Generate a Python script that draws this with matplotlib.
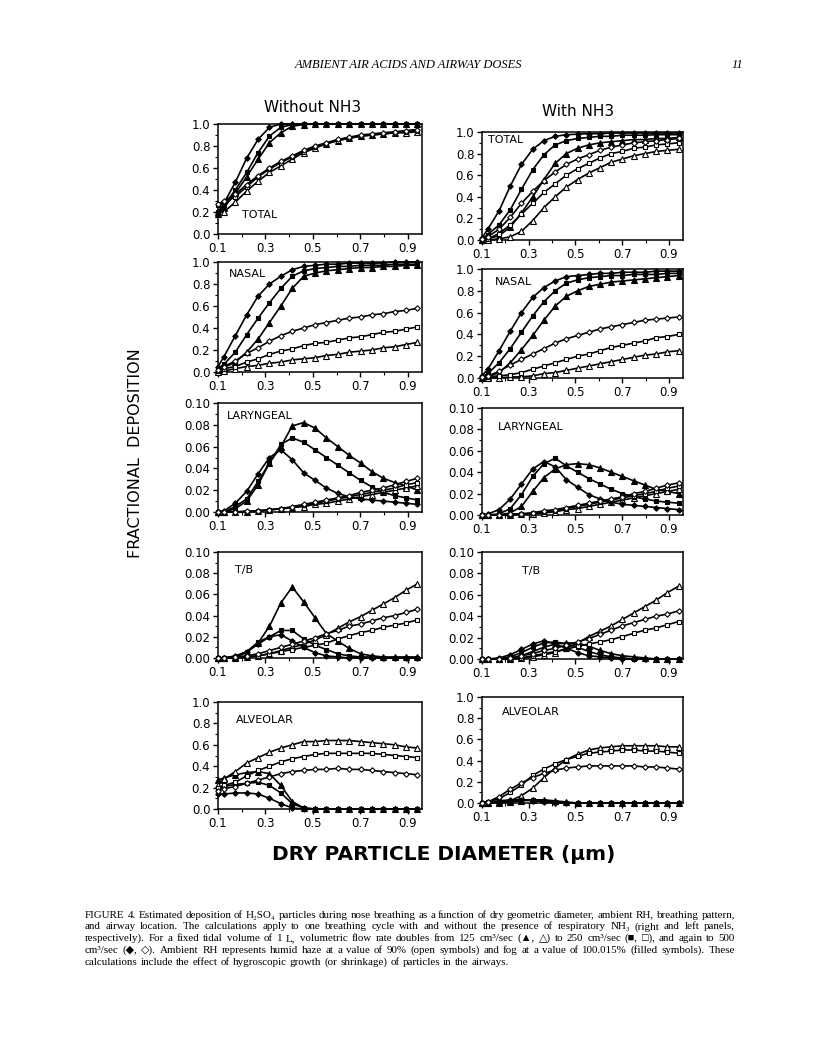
import matplotlib
matplotlib.use("Agg")
import matplotlib.pyplot as plt
from matplotlib.ticker import MultipleLocator, FixedLocator

plt.rcParams["font.family"] = ["DejaVu Sans"]

# dry particle diameter (um), same grid in every panel
diameter = [0.1, 0.125, 0.173, 0.221, 0.269, 0.317, 0.365, 0.413, 0.461, 0.509,
            0.557, 0.605, 0.653, 0.701, 0.749, 0.797, 0.845, 0.893, 0.941]

# ---- TOTAL ----
tot_wo_tri_f = [0.18, 0.24, 0.37, 0.52, 0.68, 0.83, 0.92, 0.98, 0.995, 1.0, 1.0, 1.0, 1.0, 1.0, 1.0, 1.0, 1.0, 1.0, 1.0]
tot_wo_tri_o = [0.20, 0.20, 0.29, 0.39, 0.48, 0.56, 0.62, 0.68, 0.74, 0.78, 0.82, 0.85, 0.87, 0.89, 0.90, 0.91, 0.92, 0.92, 0.93]
tot_wo_sq_f = [0.20, 0.26, 0.40, 0.56, 0.74, 0.89, 0.97, 0.995, 1.0, 1.0, 1.0, 1.0, 1.0, 1.0, 1.0, 1.0, 1.0, 1.0, 1.0]
tot_wo_sq_o = [0.26, 0.28, 0.34, 0.43, 0.52, 0.59, 0.65, 0.70, 0.75, 0.79, 0.82, 0.85, 0.87, 0.89, 0.90, 0.91, 0.92, 0.93, 0.94]
tot_wo_di_f = [0.20, 0.28, 0.47, 0.69, 0.86, 0.97, 1.0, 1.0, 1.0, 1.0, 1.0, 1.0, 1.0, 1.0, 1.0, 1.0, 1.0, 1.0, 1.0]
tot_wo_di_o = [0.27, 0.30, 0.36, 0.45, 0.53, 0.60, 0.66, 0.71, 0.76, 0.80, 0.83, 0.86, 0.88, 0.90, 0.91, 0.92, 0.93, 0.94, 0.95]

tot_w_tri_f = [0.0, 0.01, 0.04, 0.12, 0.25, 0.40, 0.56, 0.71, 0.80, 0.85, 0.88, 0.90, 0.91, 0.92, 0.93, 0.93, 0.94, 0.94, 0.95]
tot_w_tri_o = [0.0, 0.0, 0.01, 0.03, 0.08, 0.18, 0.30, 0.40, 0.49, 0.56, 0.62, 0.67, 0.72, 0.75, 0.78, 0.80, 0.82, 0.83, 0.84]
tot_w_sq_f = [0.01, 0.05, 0.14, 0.28, 0.47, 0.65, 0.79, 0.88, 0.92, 0.94, 0.95, 0.96, 0.96, 0.97, 0.97, 0.97, 0.975, 0.975, 0.975]
tot_w_sq_o = [0.0, 0.01, 0.06, 0.14, 0.24, 0.34, 0.44, 0.52, 0.60, 0.66, 0.71, 0.76, 0.80, 0.82, 0.85, 0.86, 0.88, 0.89, 0.90]
tot_w_di_f = [0.02, 0.10, 0.27, 0.50, 0.70, 0.84, 0.92, 0.96, 0.975, 0.98, 0.985, 0.985, 0.99, 0.99, 0.99, 0.99, 0.99, 0.99, 0.99]
tot_w_di_o = [0.01, 0.03, 0.10, 0.21, 0.34, 0.45, 0.55, 0.63, 0.70, 0.75, 0.79, 0.83, 0.86, 0.88, 0.90, 0.91, 0.92, 0.93, 0.94]

# ---- NASAL ----
nas_wo_tri_f = [0.02, 0.04, 0.09, 0.18, 0.30, 0.45, 0.60, 0.76, 0.87, 0.90, 0.92, 0.93, 0.94, 0.95, 0.95, 0.96, 0.96, 0.97, 0.97]
nas_wo_tri_o = [0.0, 0.01, 0.03, 0.05, 0.06, 0.08, 0.09, 0.11, 0.12, 0.13, 0.15, 0.16, 0.18, 0.19, 0.20, 0.22, 0.23, 0.25, 0.27]
nas_wo_sq_f = [0.03, 0.07, 0.18, 0.34, 0.49, 0.63, 0.76, 0.87, 0.92, 0.94, 0.95, 0.96, 0.96, 0.97, 0.97, 0.97, 0.98, 0.98, 0.98]
nas_wo_sq_o = [0.01, 0.03, 0.05, 0.09, 0.12, 0.16, 0.19, 0.21, 0.24, 0.26, 0.27, 0.29, 0.31, 0.32, 0.34, 0.36, 0.37, 0.39, 0.41]
nas_wo_di_f = [0.05, 0.14, 0.33, 0.52, 0.69, 0.80, 0.87, 0.93, 0.96, 0.97, 0.98, 0.98, 0.99, 0.99, 0.99, 0.99, 1.0, 1.0, 1.0]
nas_wo_di_o = [0.02, 0.05, 0.10, 0.17, 0.22, 0.28, 0.33, 0.37, 0.40, 0.43, 0.45, 0.47, 0.49, 0.50, 0.52, 0.53, 0.55, 0.56, 0.58]

nas_w_tri_f = [0.0, 0.01, 0.05, 0.14, 0.26, 0.39, 0.53, 0.66, 0.75, 0.80, 0.84, 0.86, 0.88, 0.89, 0.90, 0.91, 0.92, 0.93, 0.94]
nas_w_tri_o = [0.0, 0.0, 0.0, 0.01, 0.01, 0.02, 0.04, 0.05, 0.07, 0.09, 0.11, 0.13, 0.15, 0.17, 0.19, 0.21, 0.22, 0.24, 0.25]
nas_w_sq_f = [0.01, 0.04, 0.14, 0.27, 0.42, 0.57, 0.70, 0.80, 0.87, 0.90, 0.92, 0.93, 0.94, 0.94, 0.95, 0.95, 0.95, 0.96, 0.96]
nas_w_sq_o = [0.0, 0.01, 0.02, 0.03, 0.05, 0.08, 0.11, 0.14, 0.17, 0.20, 0.22, 0.25, 0.28, 0.30, 0.32, 0.34, 0.37, 0.38, 0.40]
nas_w_di_f = [0.02, 0.08, 0.25, 0.43, 0.60, 0.74, 0.83, 0.89, 0.93, 0.94, 0.95, 0.96, 0.96, 0.97, 0.97, 0.97, 0.98, 0.98, 0.98]
nas_w_di_o = [0.01, 0.02, 0.06, 0.12, 0.17, 0.22, 0.27, 0.32, 0.36, 0.39, 0.42, 0.45, 0.47, 0.49, 0.51, 0.53, 0.54, 0.55, 0.56]

# ---- LARYNGEAL ----
lar_wo_tri_f = [0.0, 0.0, 0.003, 0.010, 0.025, 0.045, 0.060, 0.079, 0.082, 0.077, 0.068, 0.060, 0.052, 0.045, 0.037, 0.031, 0.027, 0.024, 0.020]
lar_wo_tri_o = [0.0, 0.0, 0.0, 0.0, 0.001, 0.002, 0.003, 0.004, 0.005, 0.007, 0.008, 0.010, 0.012, 0.014, 0.016, 0.018, 0.020, 0.022, 0.024]
lar_wo_sq_f = [0.0, 0.0, 0.005, 0.012, 0.028, 0.045, 0.062, 0.068, 0.064, 0.057, 0.050, 0.043, 0.036, 0.029, 0.023, 0.018, 0.015, 0.013, 0.011]
lar_wo_sq_o = [0.0, 0.0, 0.0, 0.0, 0.001, 0.002, 0.003, 0.004, 0.006, 0.008, 0.010, 0.012, 0.014, 0.016, 0.018, 0.020, 0.022, 0.025, 0.027]
lar_wo_di_f = [0.0, 0.001, 0.008, 0.019, 0.035, 0.050, 0.057, 0.048, 0.036, 0.029, 0.022, 0.017, 0.014, 0.012, 0.011, 0.010, 0.009, 0.008, 0.007]
lar_wo_di_o = [0.0, 0.0, 0.0, 0.001, 0.001, 0.002, 0.003, 0.005, 0.007, 0.009, 0.011, 0.013, 0.015, 0.018, 0.020, 0.022, 0.025, 0.028, 0.031]

lar_w_tri_f = [0.0, 0.0, 0.0, 0.002, 0.008, 0.022, 0.035, 0.043, 0.047, 0.048, 0.047, 0.044, 0.040, 0.036, 0.032, 0.028, 0.024, 0.022, 0.020]
lar_w_tri_o = [0.0, 0.0, 0.0, 0.0, 0.001, 0.001, 0.002, 0.003, 0.005, 0.006, 0.008, 0.010, 0.012, 0.014, 0.016, 0.018, 0.020, 0.022, 0.024]
lar_w_sq_f = [0.0, 0.0, 0.001, 0.006, 0.019, 0.036, 0.048, 0.053, 0.046, 0.040, 0.034, 0.029, 0.024, 0.020, 0.017, 0.015, 0.013, 0.012, 0.011]
lar_w_sq_o = [0.0, 0.0, 0.0, 0.0, 0.001, 0.002, 0.003, 0.004, 0.006, 0.008, 0.010, 0.012, 0.014, 0.016, 0.018, 0.020, 0.022, 0.025, 0.027]
lar_w_di_f = [0.0, 0.001, 0.005, 0.015, 0.029, 0.043, 0.050, 0.045, 0.033, 0.026, 0.019, 0.015, 0.012, 0.010, 0.009, 0.008, 0.007, 0.006, 0.005]
lar_w_di_o = [0.0, 0.0, 0.0, 0.001, 0.001, 0.002, 0.004, 0.005, 0.007, 0.009, 0.011, 0.013, 0.015, 0.017, 0.020, 0.022, 0.025, 0.028, 0.030]

# ---- T/B ----
tb_wo_tri_f = [0.0, 0.0, 0.001, 0.005, 0.014, 0.030, 0.052, 0.067, 0.053, 0.038, 0.023, 0.016, 0.009, 0.004, 0.002, 0.001, 0.001, 0.001, 0.001]
tb_wo_tri_o = [0.0, 0.0, 0.0, 0.001, 0.002, 0.004, 0.007, 0.010, 0.013, 0.017, 0.022, 0.028, 0.034, 0.039, 0.045, 0.051, 0.057, 0.064, 0.070]
tb_wo_sq_f = [0.0, 0.0, 0.001, 0.006, 0.015, 0.020, 0.026, 0.026, 0.018, 0.012, 0.008, 0.004, 0.002, 0.001, 0.001, 0.0, 0.0, 0.0, 0.0]
tb_wo_sq_o = [0.0, 0.0, 0.0, 0.001, 0.002, 0.004, 0.006, 0.008, 0.010, 0.012, 0.014, 0.018, 0.021, 0.024, 0.026, 0.029, 0.031, 0.033, 0.036]
tb_wo_di_f = [0.0, 0.0, 0.002, 0.006, 0.013, 0.020, 0.022, 0.016, 0.010, 0.005, 0.002, 0.001, 0.0, 0.0, 0.0, 0.0, 0.0, 0.0, 0.0]
tb_wo_di_o = [0.0, 0.0, 0.001, 0.002, 0.004, 0.007, 0.010, 0.013, 0.016, 0.019, 0.023, 0.026, 0.030, 0.032, 0.035, 0.038, 0.040, 0.043, 0.046]

tb_w_tri_f = [0.0, 0.0, 0.0, 0.001, 0.003, 0.007, 0.011, 0.014, 0.015, 0.015, 0.012, 0.008, 0.005, 0.003, 0.002, 0.001, 0.0, 0.0, 0.0]
tb_w_tri_o = [0.0, 0.0, 0.0, 0.0, 0.001, 0.002, 0.004, 0.006, 0.010, 0.015, 0.021, 0.026, 0.031, 0.037, 0.043, 0.049, 0.055, 0.062, 0.068]
tb_w_sq_f = [0.0, 0.0, 0.0, 0.002, 0.006, 0.011, 0.015, 0.016, 0.014, 0.011, 0.007, 0.004, 0.002, 0.001, 0.0, 0.0, 0.0, 0.0, 0.0]
tb_w_sq_o = [0.0, 0.0, 0.0, 0.0, 0.001, 0.003, 0.005, 0.007, 0.009, 0.012, 0.014, 0.016, 0.018, 0.021, 0.024, 0.027, 0.029, 0.032, 0.035]
tb_w_di_f = [0.0, 0.0, 0.001, 0.004, 0.009, 0.014, 0.017, 0.014, 0.010, 0.006, 0.003, 0.002, 0.001, 0.0, 0.0, 0.0, 0.0, 0.0, 0.0]
tb_w_di_o = [0.0, 0.0, 0.0, 0.001, 0.003, 0.005, 0.008, 0.010, 0.013, 0.016, 0.019, 0.023, 0.027, 0.031, 0.034, 0.037, 0.040, 0.042, 0.045]

# ---- ALVEOLAR ----
alv_wo_tri_f = [0.27, 0.29, 0.32, 0.34, 0.35, 0.33, 0.22, 0.07, 0.01, 0.0, 0.0, 0.0, 0.0, 0.0, 0.0, 0.0, 0.0, 0.0, 0.0]
alv_wo_tri_o = [0.22, 0.28, 0.35, 0.43, 0.48, 0.53, 0.57, 0.60, 0.63, 0.63, 0.64, 0.64, 0.64, 0.63, 0.62, 0.61, 0.60, 0.58, 0.57]
alv_wo_sq_f = [0.20, 0.21, 0.23, 0.24, 0.25, 0.22, 0.15, 0.05, 0.01, 0.0, 0.0, 0.0, 0.0, 0.0, 0.0, 0.0, 0.0, 0.0, 0.0]
alv_wo_sq_o = [0.20, 0.22, 0.25, 0.31, 0.36, 0.40, 0.44, 0.47, 0.49, 0.51, 0.52, 0.52, 0.52, 0.52, 0.52, 0.51, 0.50, 0.49, 0.48]
alv_wo_di_f = [0.14, 0.14, 0.15, 0.15, 0.14, 0.10, 0.05, 0.01, 0.0, 0.0, 0.0, 0.0, 0.0, 0.0, 0.0, 0.0, 0.0, 0.0, 0.0]
alv_wo_di_o = [0.17, 0.19, 0.21, 0.24, 0.27, 0.30, 0.33, 0.35, 0.36, 0.37, 0.37, 0.38, 0.37, 0.37, 0.36, 0.35, 0.34, 0.33, 0.32]

alv_w_tri_f = [0.0, 0.0, 0.0, 0.01, 0.02, 0.03, 0.03, 0.02, 0.01, 0.0, 0.0, 0.0, 0.0, 0.0, 0.0, 0.0, 0.0, 0.0, 0.0]
alv_w_tri_o = [0.0, 0.0, 0.01, 0.02, 0.07, 0.14, 0.24, 0.33, 0.41, 0.46, 0.50, 0.52, 0.53, 0.54, 0.54, 0.54, 0.54, 0.53, 0.53]
alv_w_sq_f = [0.0, 0.0, 0.01, 0.02, 0.03, 0.03, 0.02, 0.01, 0.0, 0.0, 0.0, 0.0, 0.0, 0.0, 0.0, 0.0, 0.0, 0.0, 0.0]
alv_w_sq_o = [0.0, 0.01, 0.04, 0.10, 0.17, 0.26, 0.32, 0.37, 0.41, 0.44, 0.47, 0.48, 0.49, 0.50, 0.50, 0.49, 0.49, 0.48, 0.47]
alv_w_di_f = [0.0, 0.01, 0.02, 0.03, 0.03, 0.02, 0.01, 0.0, 0.0, 0.0, 0.0, 0.0, 0.0, 0.0, 0.0, 0.0, 0.0, 0.0, 0.0]
alv_w_di_o = [0.0, 0.01, 0.06, 0.13, 0.19, 0.24, 0.28, 0.31, 0.33, 0.34, 0.35, 0.35, 0.35, 0.35, 0.35, 0.34, 0.34, 0.33, 0.32]

region_names = ["TOTAL", "NASAL", "LARYNGEAL", "T/B", "ALVEOLAR"]
x_ticks = [0.1, 0.3, 0.5, 0.7, 0.9]

# marker style per series: 125 (triangle), 250 (square), 500 (diamond); fog filled, haze open
STYLES = [("^", "black", 4.0), ("^", "white", 4.0),
          ("s", "black", 3.4), ("s", "white", 3.4),
          ("D", "black", 2.8), ("D", "white", 2.8)]

panels_wo = [
    [tot_wo_tri_f, tot_wo_tri_o, tot_wo_sq_f, tot_wo_sq_o, tot_wo_di_f, tot_wo_di_o],
    [nas_wo_tri_f, nas_wo_tri_o, nas_wo_sq_f, nas_wo_sq_o, nas_wo_di_f, nas_wo_di_o],
    [lar_wo_tri_f, lar_wo_tri_o, lar_wo_sq_f, lar_wo_sq_o, lar_wo_di_f, lar_wo_di_o],
    [tb_wo_tri_f, tb_wo_tri_o, tb_wo_sq_f, tb_wo_sq_o, tb_wo_di_f, tb_wo_di_o],
    [alv_wo_tri_f, alv_wo_tri_o, alv_wo_sq_f, alv_wo_sq_o, alv_wo_di_f, alv_wo_di_o],
]
panels_w = [
    [tot_w_tri_f, tot_w_tri_o, tot_w_sq_f, tot_w_sq_o, tot_w_di_f, tot_w_di_o],
    [nas_w_tri_f, nas_w_tri_o, nas_w_sq_f, nas_w_sq_o, nas_w_di_f, nas_w_di_o],
    [lar_w_tri_f, lar_w_tri_o, lar_w_sq_f, lar_w_sq_o, lar_w_di_f, lar_w_di_o],
    [tb_w_tri_f, tb_w_tri_o, tb_w_sq_f, tb_w_sq_o, tb_w_di_f, tb_w_di_o],
    [alv_w_tri_f, alv_w_tri_o, alv_w_sq_f, alv_w_sq_o, alv_w_di_f, alv_w_di_o],
]
ymax = [1.0, 1.0, 0.10, 0.10, 1.0]

# axes rectangles in pixels (left, top, right, bottom) on the 816x1043 page
W, H = 816, 1043
boxes_left = [(218, 124, 422, 234), (218, 262, 422, 372), (218, 403, 422, 512),
              (218, 552, 422, 658), (218, 702, 422, 809)]
boxes_right = [(482, 132, 683, 240), (482, 269, 683, 378), (482, 408, 683, 515),
               (482, 552, 683, 659), (482, 697, 683, 803)]
label_pos_left = [(0.12, 0.17), (0.055, 0.89), (0.045, 0.88), (0.085, 0.83), (0.09, 0.83)]
label_pos_right = [(0.03, 0.93), (0.065, 0.88), (0.08, 0.82), (0.2, 0.82), (0.1, 0.86)]


def make_axes(fig, box):
    l, t, r, b = box
    return fig.add_axes([l / W, 1 - b / H, (r - l) / W, (b - t) / H])


def draw_panel(ax, series, top, name, pos):
    for values, (marker, face, ms) in zip(series, STYLES):
        ax.plot(diameter, values, color="black", lw=1.2, marker=marker,
                markersize=ms, markerfacecolor=face, markeredgecolor="black",
                markeredgewidth=0.8, clip_on=False, zorder=3)
    ax.set_xlim(0.1, 0.96)
    ax.set_ylim(0, top)
    ax.xaxis.set_major_locator(FixedLocator(x_ticks))
    ax.xaxis.set_minor_locator(FixedLocator([0.2, 0.4, 0.6, 0.8]))
    if top > 0.5:
        ax.yaxis.set_major_locator(MultipleLocator(0.2))
        ax.yaxis.set_minor_locator(MultipleLocator(0.1))
        ax.yaxis.set_major_formatter(plt.FuncFormatter(lambda v, p: f"{v:.1f}"))
    else:
        ax.yaxis.set_major_locator(MultipleLocator(0.02))
        ax.yaxis.set_minor_locator(MultipleLocator(0.01))
        ax.yaxis.set_major_formatter(plt.FuncFormatter(lambda v, p: f"{v:.2f}"))
    ax.xaxis.set_major_formatter(plt.FuncFormatter(lambda v, p: f"{v:.1f}"))
    ax.tick_params(which="major", direction="out", length=3.5, width=1.0,
                   labelsize=8.5, pad=2)
    ax.tick_params(which="minor", direction="out", length=2.0, width=0.8)
    for s in ax.spines.values():
        s.set_linewidth(1.1)
    ax.text(pos[0], pos[1], name, transform=ax.transAxes, fontsize=8,
            ha="left", va="center")


fig = plt.figure(figsize=(W / 100, H / 100), dpi=100)

for i in range(5):
    axl = make_axes(fig, boxes_left[i])
    draw_panel(axl, panels_wo[i], ymax[i], region_names[i], label_pos_left[i])
    axr = make_axes(fig, boxes_right[i])
    draw_panel(axr, panels_w[i], ymax[i], region_names[i], label_pos_right[i])

fig.text(313 / W, 1 - 107 / H, "Without NH3", ha="center", va="center", fontsize=11)
fig.text(578 / W, 1 - 111 / H, "With NH3", ha="center", va="center", fontsize=11)
fig.text(135 / W, 1 - 453 / H, "FRACTIONAL  DEPOSITION", rotation=90,
         ha="center", va="center", fontsize=11.5)
fig.text(444 / W, 1 - 855 / H, "DRY PARTICLE DIAMETER (\u00b5m)", ha="center",
         va="center", fontsize=14.5, weight="bold")

serif = ["Liberation Serif", "DejaVu Serif", "DejaVu Sans"]
# running head
fig.text(408 / W, 1 - 65 / H, "AMBIENT AIR ACIDS AND AIRWAY DOSES", ha="center",
         va="center", fontsize=9, style="italic", family=serif)
fig.text(737 / W, 1 - 65 / H, "11", ha="center", va="center", fontsize=9,
         style="italic", family=serif)

caption = [
    "FIGURE 4. Estimated deposition of H\u2082SO\u2084 particles during nose breathing as a function of dry geometric diameter, ambient RH, breathing pattern,",
    "and airway location. The calculations apply to one breathing cycle with and without the presence of respiratory NH\u2083 (right and left panels,",
    "respectively). For a fixed tidal volume of 1 L, volumetric flow rate doubles from 125 cm\u00b3/sec (\u25b2, \u25b3) to 250 cm\u00b3/sec (\u25a0, \u25a1), and again to 500",
    "cm\u00b3/sec (\u25c6, \u25c7). Ambient RH represents humid haze at a value of 90% (open symbols) and fog at a value of 100.015% (filled symbols). These",
    "calculations include the effect of hygroscopic growth (or shrinkage) of particles in the airways.",
]

# justified caption: lay out words one by one, last line left-aligned
renderer = fig.canvas.get_renderer()
cap_left, cap_right = 85, 735
for k, line in enumerate(caption):
    y = 1 - (915 + 11.8 * k) / H
    words = line.split(" ")
    texts = [fig.text(0, y, w, ha="left", va="center", fontsize=7.9, family=serif)
             for w in words]
    widths = [t.get_window_extent(renderer).width for t in texts]
    if k < len(caption) - 1:
        gap = (cap_right - cap_left - sum(widths)) / (len(words) - 1)
    else:
        gap = 3.0
    x = cap_left
    for t, wdt in zip(texts, widths):
        t.set_x(x / W)
        x += wdt + gap

fig.savefig("out.png", dpi=100)
